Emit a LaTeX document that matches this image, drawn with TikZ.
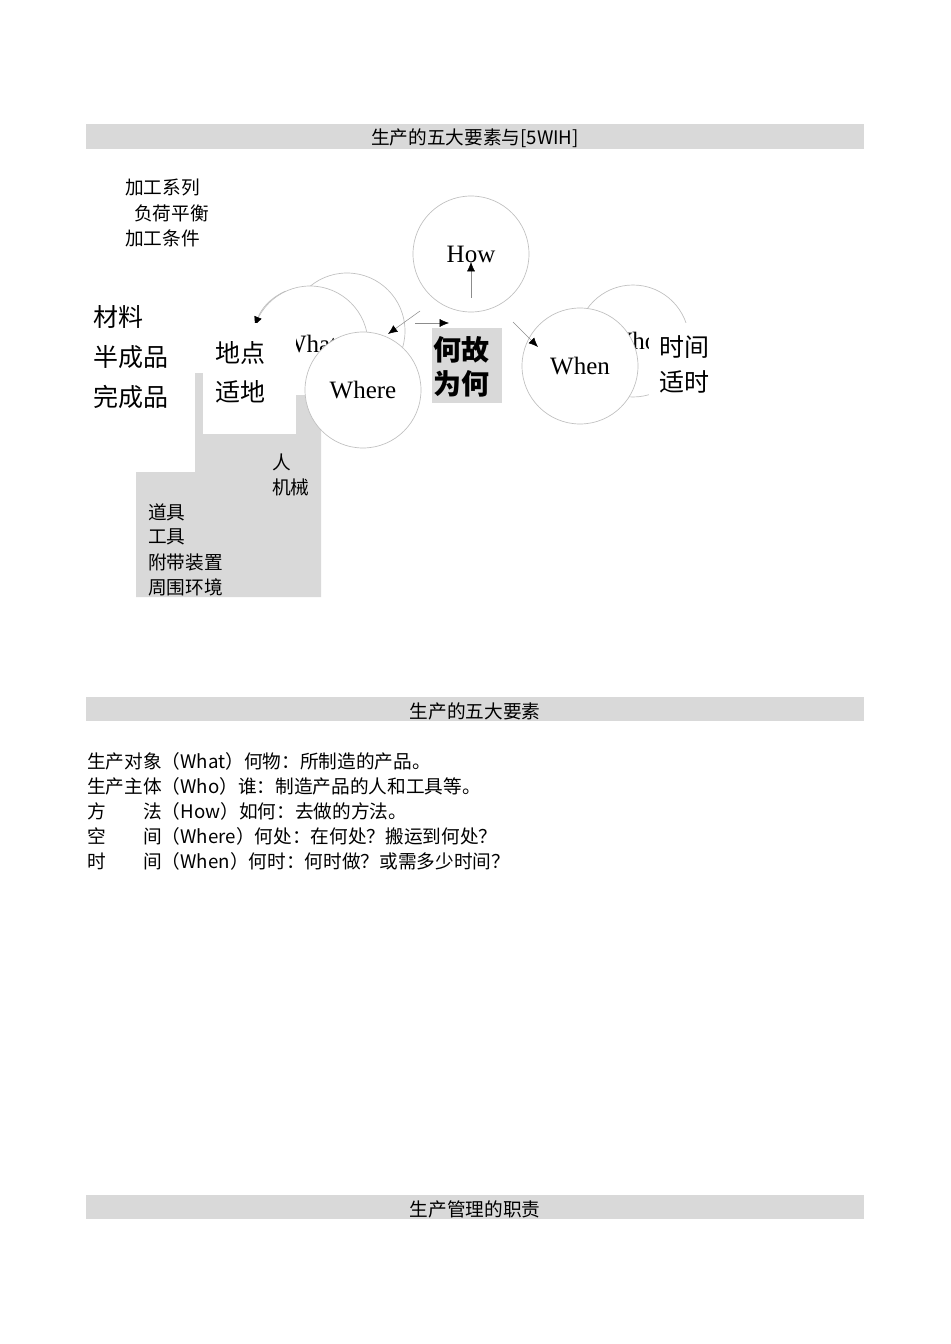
\documentclass[tikz,border=0pt]{standalone}
\usepackage{fontspec}
\setmainfont{Liberation Serif}
\newfontfamily\cjk{Noto Sans CJK SC}
\usetikzlibrary{arrows.meta}
\tikzset{
  ring/.style={circle, draw=black!25, line width=0.5pt, fill=white, minimum size=87pt, inner sep=0pt, font=\fontsize{18.75}{22}\selectfont},
  bar/.style={fill=black!15},
  txt/.style={anchor=west, inner sep=0pt, font=\cjk\fontsize{14}{16}\selectfont},
  bigtxt/.style={anchor=west, inner sep=0pt, font=\cjk\fontsize{18.75}{22}\selectfont},
  boldtxt/.style={anchor=west, inner sep=0pt, font=\cjk\bfseries\fontsize{21}{24}\selectfont},
  link/.style={draw=black!45, line width=0.4pt, -{Latex[length=7pt,width=6pt,color=black]}}
}
\begin{document}
\begin{tikzpicture}[x=0.75pt,y=-0.75pt]
\useasboundingbox (0,0) rectangle (950,1344);
\fill[bar] (86,124) rectangle (864,149);
\node[txt,anchor=center] (title1) at (475,138) {生产的五大要素与[5WIH]};
\node[txt] (series) at (125,188) {加工系列};
\node[txt] (balance) at (134,213) {负荷平衡};
\node[txt] (cond) at (125,238) {加工条件};
\node[bigtxt] (mat) at (93,317) {材料};
\node[bigtxt] (half) at (93,357) {半成品};
\node[bigtxt] (done) at (93,397) {完成品};
\node[ring] (whatback) at (347,331) {};
\node[ring] (what) at (310,344) {What};
\draw[draw=black!25, line width=0.5pt, -{Latex[length=7pt,width=6pt,color=black]}] (what.115) to[out=205,in=68] (what.162);
\fill[black!15] (136,597) -- (321,597) -- (321,395) -- (296,395) -- (296,434) -- (203,434) -- (203,373) -- (195,373) -- (195,472) -- (136,472) -- cycle;
\fill[white] (203,323) rectangle (296,434);
\node[bigtxt] (place) at (215,353) {地点};
\node[bigtxt] (fitplace) at (215,392) {适地};
\node[ring] (where) at (363,390) {Where};
\node[ring] (how) at (471,254) {How};
\node[ring, minimum size=84pt] (whoback) at (633,341) {Who};
\node[ring] (when) at (580,366) {When};
\fill[white] (649,323) rectangle (716,397);
\node[bigtxt] (time) at (659,347) {时间};
\node[bigtxt] (fittime) at (659,382) {适时};
\node[fill=black!15, minimum width=52.5pt, minimum height=56.25pt, inner sep=0pt] (why) at (467,365.5) {};
\node[boldtxt] (whytop) at (433,350) {何故};
\node[boldtxt] (whybot) at (433,384) {为何};
\coordinate (howtail) at (471,298);
\coordinate (howtip) at (471,262);
\coordinate (wheretail) at (420,311);
\coordinate (wheretip) at (388,334);
\coordinate (whytail) at (415,323);
\coordinate (whytip) at (449,323);
\coordinate (whentail) at (513,322);
\coordinate (whentip) at (538,347);
\draw[link] (howtail) -- (howtip);
\draw[link] (wheretail) -- (wheretip);
\draw[link] (whytail) -- (whytip);
\draw[link] (whentail) -- (whentip);
\node[txt] (man) at (272,462) {人};
\node[txt] (machine) at (272,487) {机械};
\node[txt] (tool) at (148,512) {道具};
\node[txt] (hand) at (148,537) {工具};
\node[txt] (device) at (148,562) {附带装置};
\node[txt] (env) at (148,587) {周围环境};
\fill[bar] (86,697) rectangle (864,721);
\node[txt,anchor=center] (title2) at (475,711) {生产的五大要素};
\node[txt] (lwhat) at (87,761) {生产对象（What）何物：所制造的产品。};
\node[txt] (lwho) at (87,786) {生产主体（Who）谁：制造产品的人和工具等。};
\node[txt] (lhow) at (87,811) {方\hspace*{2em}法（How）如何：去做的方法。};
\node[txt] (lwhere) at (87,836) {空\hspace*{2em}间（Where）何处：在何处？搬运到何处？};
\node[txt] (lwhen) at (87,861) {时\hspace*{2em}间（When）何时：何时做？或需多少时间？};
\fill[bar] (86,1195) rectangle (864,1219);
\node[txt,anchor=center] (title3) at (475,1209) {生产管理的职责};
\end{tikzpicture}
\end{document}
